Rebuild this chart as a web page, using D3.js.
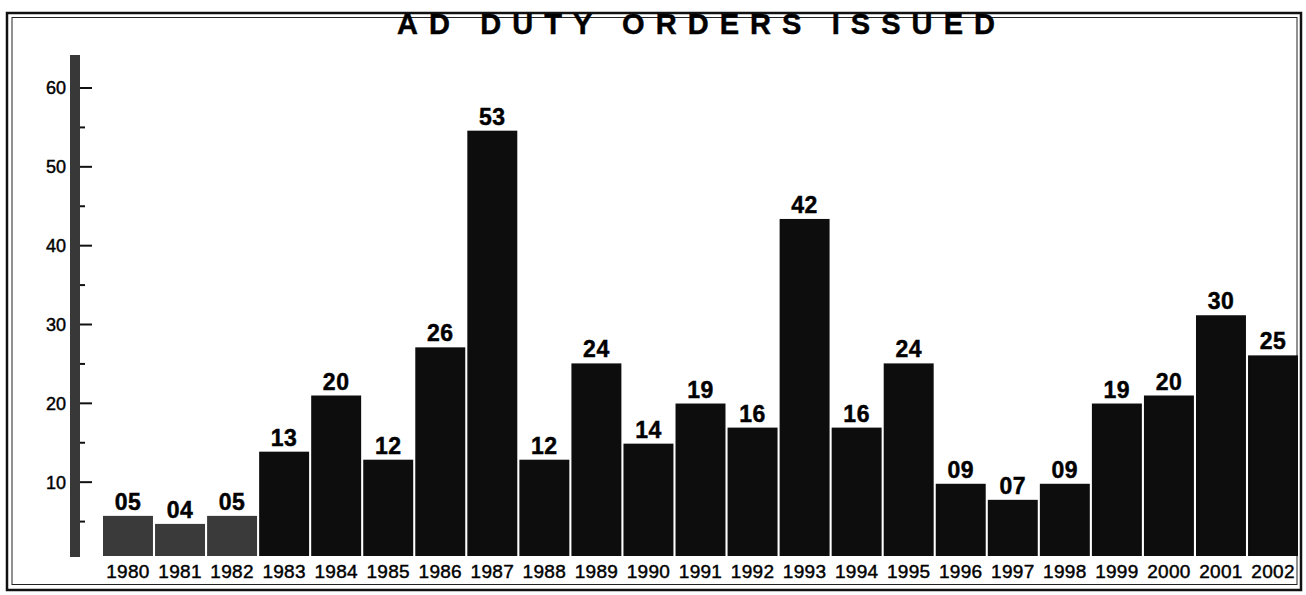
<!DOCTYPE html>
<html>
  <head>
    <meta charset="UTF-8" />
    <title>AD Duty Orders Issued</title>
    <script src="https://d3js.org/d3.v7.min.js"></script>
    <style>
      body {
        margin: 0;
        background: #fff;
      }
      svg {
        display: block;
        font-family: "Liberation Sans", Arial, sans-serif;
      }
      .heavy {
        stroke: #000;
        stroke-width: 0.45px;
      }
    </style>
  </head>
  <body>
    <div id="chart"></div>
    <script>
      const years = [
        "1980", "1981", "1982", "1983", "1984", "1985", "1986", "1987",
        "1988", "1989", "1990", "1991", "1992", "1993", "1994", "1995",
        "1996", "1997", "1998", "1999", "2000", "2001", "2002",
      ];
      const orders = [
        5, 4, 5, 13, 20, 12, 26, 53, 12, 24, 14, 19, 16, 42, 16, 24, 9, 7, 9,
        19, 20, 30, 25,
      ];
      const majorTicks = [10, 20, 30, 40, 50, 60];
      const minorTicks = [5, 15, 25, 35, 45, 55];
      const title = "AD DUTY ORDERS ISSUED";

      const width = 1306;
      const height = 595;
      // the first three bars came out greyer on the original print
      const greyBars = new Set(["1980", "1981", "1982"]);

      const svg = d3
        .select("#chart")
        .append("svg")
        .attr("width", width)
        .attr("height", height);

      // double frame
      svg
        .append("rect")
        .attr("x", 7)
        .attr("y", 13)
        .attr("width", 1294)
        .attr("height", 577)
        .attr("fill", "none")
        .attr("stroke", "#111")
        .attr("stroke-width", 2.5);
      svg
        .append("rect")
        .attr("x", 12)
        .attr("y", 17.5)
        .attr("width", 1285)
        .attr("height", 567)
        .attr("fill", "none")
        .attr("stroke", "#222")
        .attr("stroke-width", 1);

      svg
        .append("text")
        .attr("class", "heavy")
        .attr("x", 397)
        .attr("y", 34)
        .attr("textLength", 598)
        .attr("lengthAdjust", "spacing")
        .style("font-size", "29px")
        .style("font-weight", "bold")
        .attr("fill", "#000")
        .text(title);

      // the printed axis and the printed bars don't quite agree,
      // so the ticks and the bars each get their own linear scale
      const yAxis = d3.scaleLinear().domain([0, 60]).range([561, 88]);
      const y = d3.scaleLinear().domain([0, 60]).range([556, 74.5]);
      const x = d3
        .scaleBand()
        .domain(years)
        .range([103, 1298])
        .paddingInner(0.04)
        .paddingOuter(0);

      // thick vertical axis
      svg
        .append("rect")
        .attr("x", 70)
        .attr("y", 55)
        .attr("width", 10)
        .attr("height", y(0) + 1 - 55)
        .attr("fill", "#383838");

      const axis = svg.append("g").attr("transform", "translate(80,0)");

      axis
        .selectAll("line.major")
        .data(majorTicks)
        .join("line")
        .attr("class", "major")
        .attr("x1", 0)
        .attr("x2", 12)
        .attr("y1", (d) => yAxis(d))
        .attr("y2", (d) => yAxis(d))
        .attr("stroke", "#111")
        .attr("stroke-width", 2);

      axis
        .selectAll("line.minor")
        .data(minorTicks)
        .join("line")
        .attr("class", "minor")
        .attr("x1", 0)
        .attr("x2", 5)
        .attr("y1", (d) => yAxis(d))
        .attr("y2", (d) => yAxis(d))
        .attr("stroke", "#111")
        .attr("stroke-width", 2);

      axis
        .selectAll("text")
        .data(majorTicks)
        .join("text")
        .attr("class", "heavy")
        .attr("x", -14)
        .attr("y", (d) => yAxis(d))
        .attr("dy", "0.36em")
        .attr("text-anchor", "end")
        .style("font-size", "18px")
        .attr("fill", "#000")
        .text((d) => d);

      const bars = svg
        .append("g")
        .selectAll("g")
        .data(years.map((year, i) => ({ year, value: orders[i] })))
        .join("g");

      bars
        .append("rect")
        .attr("x", (d) => x(d.year))
        .attr("y", (d) => y(d.value))
        .attr("width", x.bandwidth())
        .attr("height", (d) => y(0) - y(d.value))
        .attr("fill", (d) => (greyBars.has(d.year) ? "#3a3a3a" : "#0d0d0d"));

      bars
        .append("text")
        .attr("class", "heavy")
        .attr("x", (d) => x(d.year) + x.bandwidth() / 2)
        .attr("y", (d) => y(d.value) - 6)
        .attr("text-anchor", "middle")
        .style("font-size", "23px")
        .style("font-weight", "bold")
        .style("letter-spacing", "0.5px")
        .attr("fill", "#000")
        .text((d) => d3.format("02d")(d.value));

      bars
        .append("text")
        .attr("class", "heavy")
        .attr("x", (d) => x(d.year) + x.bandwidth() / 2)
        .attr("y", 578)
        .attr("text-anchor", "middle")
        .style("font-size", "19px")
        .style("letter-spacing", "0.3px")
        .attr("fill", "#000")
        .text((d) => d.year);
    </script>
  </body>
</html>
